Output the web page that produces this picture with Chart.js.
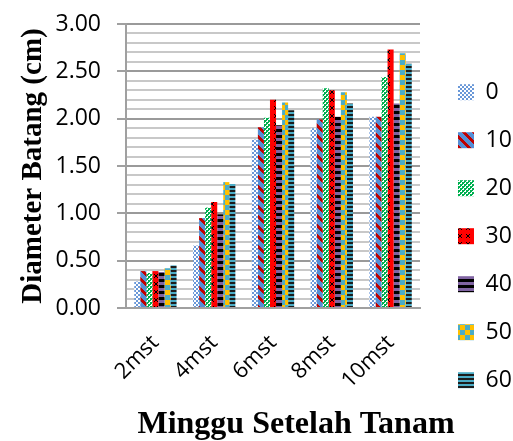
<!DOCTYPE html>
<html>
<head>
<meta charset="utf-8">
<script src="https://cdn.jsdelivr.net/npm/chart.js@4.4.1/dist/chart.umd.min.js"></script>
<style>
  html, body { margin: 0; padding: 0; background: #ffffff; }
  #wrap { width: 513px; height: 441px; position: relative; }
</style>
</head>
<body>
<div id="wrap"><canvas id="c" width="513" height="441"></canvas></div>
<script>
// ---- data ----
const categories = ['2mst', '4mst', '6mst', '8mst', '10mst'];
const seriesNames = ['0', '10', '20', '30', '40', '50', '60'];
const s0  = [0.28, 0.66, 1.78, 1.90, 2.02];
const s10 = [0.39, 0.95, 1.91, 1.99, 2.02];
const s20 = [0.37, 1.06, 2.01, 2.32, 2.44];
const s30 = [0.39, 1.12, 2.20, 2.30, 2.73];
const s40 = [0.38, 0.99, 1.93, 2.02, 2.16];
const s50 = [0.42, 1.33, 2.17, 2.28, 2.69];
const s60 = [0.45, 1.31, 2.09, 2.16, 2.58];
const seriesValues = [s0, s10, s20, s30, s40, s50, s60];
const yAxisTitle = 'Diameter Batang (cm)';
const xAxisTitle = 'Minggu Setelah Tanam';

// ---- patterns ----
const mainCtx = document.getElementById('c').getContext('2d');
function makePattern(w, h, painter) {
  const t = document.createElement('canvas');
  t.width = w; t.height = h;
  const g = t.getContext('2d');
  painter(g, w, h);
  return mainCtx.createPattern(t, 'repeat');
}
function px(g, x, y, c) { g.fillStyle = c; g.fillRect(x, y, 1, 1); }

const patterns = [
  // 0: blue / white fine checker
  makePattern(4, 4, (g) => {
    g.fillStyle = '#ffffff'; g.fillRect(0, 0, 4, 4);
    g.fillStyle = '#6a98d8'; g.fillRect(0, 0, 2, 2); g.fillRect(2, 2, 2, 2);
  }),
  // 10: blue with dark red "\" diagonal stripes
  makePattern(10, 10, (g, w, h) => {
    for (let y = 0; y < h; y++) for (let x = 0; x < w; x++) {
      px(g, x, y, (((x - y) % 10) + 10) % 10 < 4 ? '#c00000' : '#558ed5');
    }
  }),
  // 20: green / white checker
  makePattern(4, 4, (g) => {
    g.fillStyle = '#ffffff'; g.fillRect(0, 0, 4, 4);
    g.fillStyle = '#00b050'; g.fillRect(0, 0, 2, 2); g.fillRect(2, 2, 2, 2);
    g.fillRect(0, 2, 1, 1); g.fillRect(2, 0, 1, 1);
  }),
  // 30: red with small black crosses
  makePattern(8, 8, (g) => {
    g.fillStyle = '#ff0000'; g.fillRect(0, 0, 8, 8);
    const c = '#000000';
    px(g, 2, 2, c); px(g, 3, 3, c); px(g, 4, 4, c); px(g, 5, 5, c);
    px(g, 5, 2, c); px(g, 4, 3, c); px(g, 3, 4, c); px(g, 2, 5, c);
  }),
  // 40: purple / black horizontal bands
  makePattern(6, 6, (g) => {
    g.fillStyle = '#8064a2'; g.fillRect(0, 0, 6, 3);
    g.fillStyle = '#000000'; g.fillRect(0, 3, 6, 3);
  }),
  // 50: teal / gold checker
  makePattern(10, 10, (g) => {
    g.fillStyle = '#4bacc6'; g.fillRect(0, 0, 10, 10);
    g.fillStyle = '#ffc000'; g.fillRect(5, 0, 5, 5); g.fillRect(0, 5, 5, 5);
  }),
  // 60: teal with dark horizontal lines
  makePattern(4, 4, (g) => {
    g.fillStyle = '#4bacc6'; g.fillRect(0, 0, 4, 4);
    g.fillStyle = '#1c1c1c'; g.fillRect(0, 2, 4, 2);
  })
];

const datasets = seriesNames.map((name, i) => ({
  label: name,
  data: seriesValues[i],
  backgroundColor: patterns[i],
  borderWidth: 0,
  barPercentage: 1.0,
  categoryPercentage: 0.72,
  yAxisID: 'y'
}));

const isMajor = (v) => Math.abs(Math.round(v * 10) % 5) === 0;

// x-axis title drawn as text at the reference position
const xTitlePlugin = {
  id: 'xTitle',
  afterDraw(chart) {
    const ctx = chart.ctx;
    ctx.save();
    ctx.font = 'bold 32px "Liberation Serif", "Times New Roman", serif';
    ctx.fillStyle = '#000000';
    ctx.textAlign = 'center';
    ctx.textBaseline = 'alphabetic';
    ctx.fillText(xAxisTitle, 296, 433);
    ctx.restore();
  }
};

new Chart(document.getElementById('c'), {
  type: 'bar',
  data: { labels: categories, datasets },
  plugins: [xTitlePlugin],
  options: {
    responsive: false,
    animation: false,
    devicePixelRatio: 1,
    layout: { padding: { top: 0, right: 0, bottom: 0, left: 0 } },
    plugins: {
      tooltip: { enabled: false },
      legend: {
        position: 'right',
        align: 'center',
        maxWidth: 80,
        title: {
          display: true,
          text: '',
          font: { size: 12, lineHeight: 1 },
          padding: { top: 9.7, bottom: 9.7 }
        },
        labels: {
          boxWidth: 16,
          boxHeight: 16,
          padding: 25,
          color: '#000000',
          font: { family: '"Open Sans", sans-serif', size: 23 }
        }
      }
    },
    scales: {
      x: {
        grid: { display: false },
        border: { display: true, color: '#a0a0a0', width: 2 },
        afterFit: (s) => { s.height = 133; },
        ticks: {
          color: '#000000',
          minRotation: 45,
          maxRotation: 45,
          padding: 14,
          labelOffset: 0,
          font: { family: '"Open Sans", sans-serif', size: 22 }
        }
      },
      y: {
        min: 0,
        max: 3,
        afterFit: (s) => { s.width = 126; s.paddingTop = 24; s.paddingBottom = 0; },
        border: { display: true, color: '#a0a0a0', width: 2 },
        grid: {
          color: (c) => isMajor(c.tick.value) ? '#9a9a9a' : '#c8c8c8',
          lineWidth: 2,
          tickLength: 9,
          tickColor: (c) => isMajor(c.tick.value) ? '#a0a0a0' : 'rgba(0,0,0,0)'
        },
        ticks: {
          stepSize: 0.1,
          autoSkip: false,
          padding: 16,
          color: '#000000',
          font: { family: '"Open Sans", sans-serif', size: 23 },
          callback: (v) => isMajor(v) ? Number(v).toFixed(2) : ''
        },
        title: {
          display: true,
          text: yAxisTitle,
          color: '#000000',
          padding: { top: 16.6, bottom: 0 },
          font: { family: '"Liberation Serif", "Times New Roman", serif', size: 29, weight: 'bold' }
        }
      },
      gap: {
        type: 'linear',
        position: 'right',
        display: true,
        afterFit: (s) => { s.width = 13; s.paddingTop = 0; s.paddingBottom = 0; },
        grid: { display: false },
        border: { display: false },
        ticks: { display: false }
      }
    }
  }
});
</script>
</body>
</html>
